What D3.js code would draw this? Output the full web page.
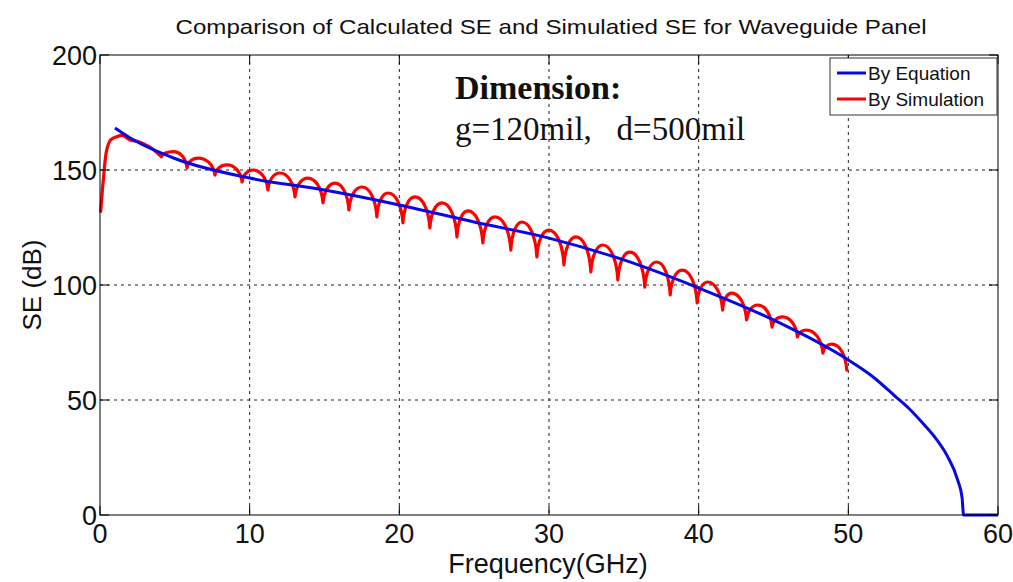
<!DOCTYPE html>
<html>
<head>
<meta charset="utf-8">
<script src="https://cdn.jsdelivr.net/npm/d3@7"></script>
<style>
  body { margin: 0; background: #fff; }
  svg { display: block; }
  .tick-text { font-family: "Liberation Sans", Arial, sans-serif; font-size: 27px; fill: #111; }
</style>
</head>
<body>
<svg id="chart" width="1013" height="582"></svg>
<script>
// values
var xTicks = [0, 10, 20, 30, 40, 50, 60];
var yTicks = [0, 50, 100, 150, 200];

// "By Equation" curve
var eqFreq = [1, 2, 5, 10, 15, 20, 25, 30, 35, 40, 45, 50, 51.7, 53.1, 54.1, 55.1, 55.9, 56.6, 57.3, 57.6, 57.7, 60];
var eqSE = [168.3, 164, 155, 146.5, 141.3, 134.8, 127.4, 120.4, 110.9, 98.7, 84.8, 67.4, 59.8, 51.8, 46, 39, 32.8, 25.8, 15.3, 7.5, 0, 0];

// "By Simulation" curve, low-frequency rise
var simStartFreq = [0.05, 0.22, 0.45, 0.7, 1.0, 1.5, 2.0, 2.5, 2.9, 3.45, 4.1];
var simStartSE = [132, 145.6, 158.7, 163, 164.2, 165, 163, 162.5, 161.4, 159.4, 155.8];

// "By Simulation" curve, alternating dips / peaks from 4 GHz on
var simFreq = [4.1, 4.9, 5.81, 6.55, 7.68, 8.48, 9.49, 10.22, 11.22, 12.02, 13.03, 13.89, 14.9, 15.7, 16.63, 17.5,
  18.5, 19.24, 20.24, 21.04, 22.04, 22.85, 23.85, 24.58, 25.58, 26.39, 27.45, 28.19, 29.19, 29.99, 31, 31.8, 32.8,
  33.6, 34.6, 35.4, 36.4, 37.2, 38.1, 38.9, 39.9, 40.6, 41.6, 42.2, 43.2, 43.95, 44.9, 45.6, 46.6, 47.2, 48.3, 48.9, 49.9];
var simSE = [155.8, 158, 150.9, 155.2, 147.8, 152.2, 144.8, 150, 141.3, 148.7, 138.3, 146.5, 135.7, 144.3, 132.6, 142.6,
  129.6, 140, 127, 138.3, 124.8, 135.7, 120.9, 132.2, 118.3, 129.6, 115.2, 127.4, 112.2, 123.9, 108.7, 120.9, 105.7,
  117.4, 102.2, 114.3, 99.1, 110, 95.7, 106.5, 92.2, 101.3, 89.1, 96.5, 84.8, 91.3, 81.7, 86.1, 77.4, 80.4, 70.4, 74.3, 63];

var legendNames = ["By Equation", "By Simulation"];
var legendColors = ["#0808e6", "#ff0000"];

var margin = { top: 55, right: 15, bottom: 67, left: 100 },
    width = 1013,
    height = 582,
    tickLen = 9;

var svg = d3.select("#chart");

var x = d3.scaleLinear()
    .domain([0, 60])
    .range([margin.left, width - margin.right]);

var y = d3.scaleLinear()
    .domain([0, 200])
    .range([height - margin.bottom, margin.top]);

// custom curve: sharp (vertical) at the dips, rounded at the peaks
function ArchCurve(context) { this._context = context; }
ArchCurve.prototype = {
  areaStart: function() {},
  areaEnd: function() {},
  lineStart: function() { this._pts = []; },
  point: function(px, py) { this._pts.push([px, py]); },
  lineEnd: function() {
    var p = this._pts, c = this._context;
    if (!p.length) return;
    c.moveTo(p[0][0], p[0][1]);
    for (var i = 0; i < p.length - 1; i++) {
      var a = p[i], b = p[i + 1], dx = b[0] - a[0];
      if (a[1] > b[1]) {
        // dip -> peak
        c.bezierCurveTo(a[0] + 0.08 * dx, a[1] + 0.6 * (b[1] - a[1]), b[0] - 0.5 * dx, b[1], b[0], b[1]);
      } else {
        // peak -> dip
        c.bezierCurveTo(a[0] + 0.5 * dx, a[1], b[0] - 0.08 * dx, b[1] + 0.6 * (a[1] - b[1]), b[0], b[1]);
      }
    }
  }
};
function curveArch(context) { return new ArchCurve(context); }

var plotL = x(0), plotR = x(60), plotT = y(200), plotB = y(0);

// grid
var grid = svg.append("g").attr("class", "grid");
grid.selectAll("line.gx")
    .data(xTicks.filter(function(d) { return d > 0 && d < 60; }))
    .enter().append("line")
    .attr("x1", function(d) { return x(d); })
    .attr("x2", function(d) { return x(d); })
    .attr("y1", plotT)
    .attr("y2", plotB)
    .attr("stroke", "#222")
    .attr("stroke-width", 1)
    .attr("stroke-dasharray", "3,4");
grid.selectAll("line.gy")
    .data(yTicks.filter(function(d) { return d > 0 && d < 200; }))
    .enter().append("line")
    .attr("x1", plotL)
    .attr("x2", plotR)
    .attr("y1", function(d) { return y(d); })
    .attr("y2", function(d) { return y(d); })
    .attr("stroke", "#222")
    .attr("stroke-width", 1)
    .attr("stroke-dasharray", "3,4");

// annotation
svg.append("text")
    .attr("x", 455)
    .attr("y", 99)
    .style("font-family", "'Liberation Serif', 'Times New Roman', serif")
    .style("font-weight", "bold")
    .style("font-size", "34px")
    .attr("fill", "#111")
    .text("Dimension:");
svg.append("text")
    .attr("x", 455)
    .attr("y", 140)
    .style("font-family", "'Liberation Serif', 'Times New Roman', serif")
    .style("font-size", "33px")
    .style("white-space", "pre")
    .attr("fill", "#111")
    .text("g=120mil,   d=500mil");

// curves
var simStart = d3.zip(simStartFreq, simStartSE),
    sim = d3.zip(simFreq, simSE),
    eq = d3.zip(eqFreq, eqSE);

svg.append("path")
    .datum(simStart)
    .attr("fill", "none")
    .attr("stroke", legendColors[1])
    .attr("stroke-width", 3.2)
    .attr("stroke-linejoin", "round")
    .attr("stroke-linecap", "round")
    .attr("d", d3.line().x(function(d) { return x(d[0]); }).y(function(d) { return y(d[1]); }).curve(d3.curveCatmullRom));

svg.append("path")
    .datum(sim)
    .attr("fill", "none")
    .attr("stroke", legendColors[1])
    .attr("stroke-width", 3.2)
    .attr("stroke-linejoin", "round")
    .attr("stroke-linecap", "round")
    .attr("d", d3.line().x(function(d) { return x(d[0]); }).y(function(d) { return y(d[1]); }).curve(curveArch));

svg.append("path")
    .datum(eq)
    .attr("fill", "none")
    .attr("stroke", legendColors[0])
    .attr("stroke-width", 3)
    .attr("stroke-linejoin", "round")
    .attr("d", d3.line().x(function(d) { return x(d[0]); }).y(function(d) { return y(d[1]); }).curve(d3.curveMonotoneX));

// axes box with inward ticks on all four sides
var axes = svg.append("g").attr("class", "axes");
axes.append("rect")
    .attr("x", plotL)
    .attr("y", plotT)
    .attr("width", plotR - plotL)
    .attr("height", plotB - plotT)
    .attr("fill", "none")
    .attr("stroke", "#000")
    .attr("stroke-width", 1);

xTicks.forEach(function(d) {
  axes.append("line").attr("x1", x(d)).attr("x2", x(d)).attr("y1", plotB).attr("y2", plotB - tickLen).attr("stroke", "#000");
  axes.append("line").attr("x1", x(d)).attr("x2", x(d)).attr("y1", plotT).attr("y2", plotT + tickLen).attr("stroke", "#000");
});
yTicks.forEach(function(d) {
  axes.append("line").attr("x1", plotL).attr("x2", plotL + tickLen).attr("y1", y(d)).attr("y2", y(d)).attr("stroke", "#000");
  axes.append("line").attr("x1", plotR).attr("x2", plotR - tickLen).attr("y1", y(d)).attr("y2", y(d)).attr("stroke", "#000");
});

axes.selectAll("text.xt")
    .data(xTicks)
    .enter().append("text")
    .attr("class", "tick-text")
    .attr("x", function(d) { return x(d); })
    .attr("y", plotB + 28)
    .attr("text-anchor", "middle")
    .text(function(d) { return d; });

axes.selectAll("text.yt")
    .data(yTicks)
    .enter().append("text")
    .attr("class", "tick-text")
    .attr("x", plotL - 3)
    .attr("y", function(d) { return y(d) + 10; })
    .attr("text-anchor", "end")
    .text(function(d) { return d; });

// labels
svg.append("text")
    .attr("x", 548)
    .attr("y", 573)
    .attr("text-anchor", "middle")
    .attr("class", "tick-text")
    .text("Frequency(GHz)");

svg.append("text")
    .attr("transform", "translate(41," + ((plotT + plotB) / 2) + ") rotate(-90)")
    .attr("text-anchor", "middle")
    .attr("class", "tick-text")
    .style("font-size", "26px")
    .text("SE (dB)");

svg.append("text")
    .attr("x", 551)
    .attr("y", 34)
    .attr("text-anchor", "middle")
    .attr("textLength", 751)
    .attr("lengthAdjust", "spacingAndGlyphs")
    .style("font-family", "'Liberation Sans', Arial, sans-serif")
    .style("font-size", "21px")
    .attr("fill", "#111")
    .text("Comparison of Calculated SE and Simulatied SE for Waveguide Panel");

// legend
var legend = svg.append("g").attr("transform", "translate(830,58)");
legend.append("rect")
    .attr("width", 167)
    .attr("height", 57)
    .attr("fill", "#fff")
    .attr("stroke", "#333")
    .attr("stroke-width", 1);
legendNames.forEach(function(name, i) {
  var ly = 15 + i * 26;
  legend.append("line")
      .attr("x1", 7).attr("x2", 36)
      .attr("y1", ly).attr("y2", ly)
      .attr("stroke", legendColors[i])
      .attr("stroke-width", 3);
  legend.append("text")
      .attr("x", 38)
      .attr("y", ly + 7)
      .style("font-family", "'Liberation Sans', Arial, sans-serif")
      .style("font-size", "19px")
      .attr("fill", "#111")
      .text(name);
});
</script>
</body>
</html>
